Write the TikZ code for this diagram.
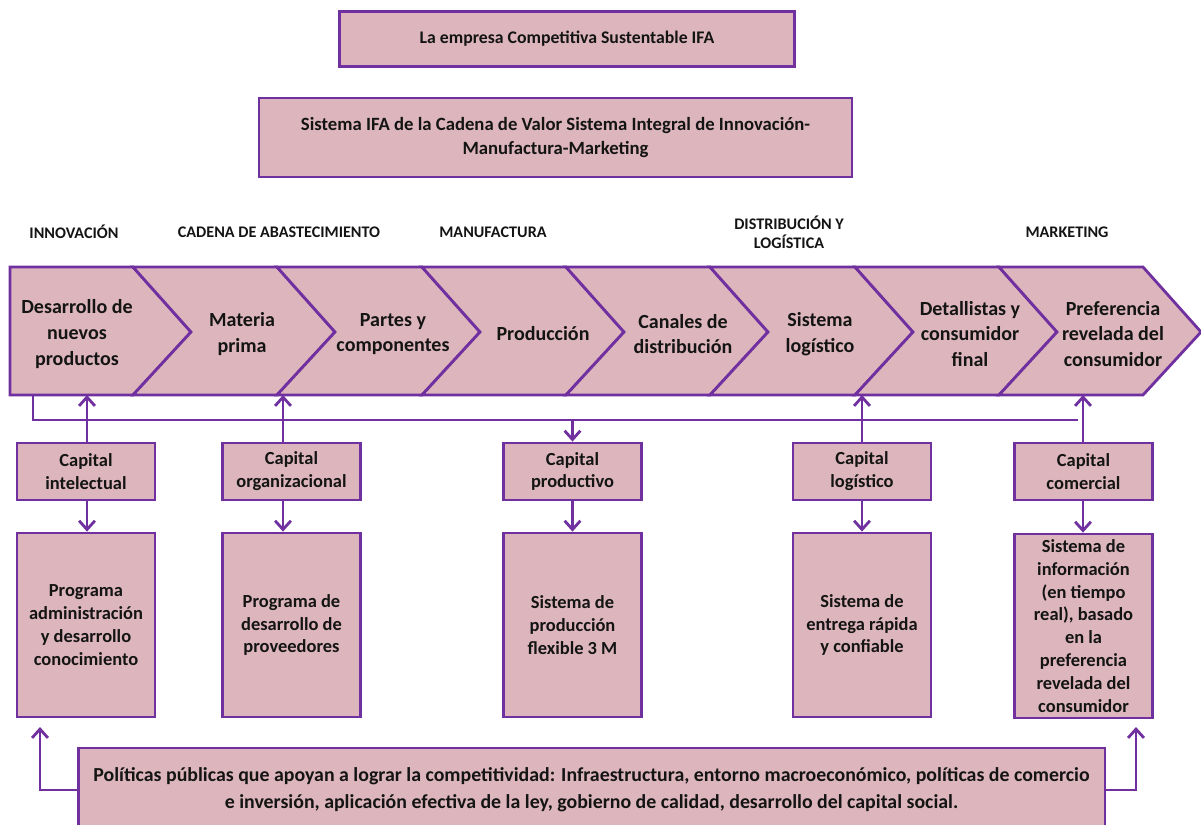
\documentclass[tikz,border=0pt]{standalone}
\usepackage{fontspec}
\setmainfont{Carlito}
\usetikzlibrary{arrows.meta}
\definecolor{frame}{RGB}{112,48,160}
\definecolor{paper}{RGB}{220,182,188}
\definecolor{ink}{RGB}{20,20,20}
\tikzset{
  box/.style={draw=frame, fill=paper, line width=1.6pt, inner sep=2pt,
              align=center, text=ink, font=\bfseries},
  chev/.style={draw=frame, fill=paper, line width=1.6pt, line join=miter},
  chevtext/.style={align=center, text=ink, font=\fontsize{11.4}{14.6}\selectfont\bfseries},
  sect/.style={align=center, text=ink, font=\fontsize{9.2}{11}\selectfont\bfseries},
  capbox/.style={box, minimum width=2.76cm, minimum height=1.14cm,
                 font=\fontsize{10.5}{13}\selectfont\bfseries},
  bigbox/.style={box, minimum width=2.76cm, minimum height=3.68cm,
                 font=\fontsize{10.5}{13}\selectfont\bfseries},
  link/.style={draw=frame, line width=1.6pt},
  arr/.style={link, -{Straight Barb[length=5pt, width=9pt]}}
}
\begin{document}
\begin{tikzpicture}[x=0.02cm, y=-0.02cm]
\useasboundingbox (0,0) rectangle (1201,825);

% title boxes
\node[box, minimum width=9.1cm, minimum height=1.1cm,
      font=\fontsize{10.1}{14}\selectfont\bfseries] (title) at (567,39)
  {La empresa Competitiva Sustentable IFA};
\node[box, minimum width=11.86cm, minimum height=1.58cm,
      font=\fontsize{10.65}{14.2}\selectfont\bfseries] (system) at (555.5,137.5)
  {Sistema IFA de la Cadena de Valor Sistema Integral de Innovación-\\Manufactura-Marketing};

% stage headings
\node[sect] (hInn) at (74,232) {INNOVACIÓN};
\node[sect] (hCad) at (279,232) {CADENA DE ABASTECIMIENTO};
\node[sect] (hMan) at (493,232) {MANUFACTURA};
\node[sect] (hDis) at (789,232) {DISTRIBUCIÓN Y\\LOGÍSTICA};
\node[sect] (hMkt) at (1067,232) {MARKETING};

% value chain chevrons
\path[chev] (10,267) -- (133,267) -- (191,332) -- (133,395) -- (10,395) -- cycle;
\foreach \a/\b in {133/277, 277/422, 422/566, 566/710, 710/855, 855/999, 999/1143}{
  \path[chev] (\a,267) -- (\b,267) -- (\b+58,332) -- (\b,395) -- (\a,395) -- (\a+58,332) -- cycle;
}
\node[chevtext] (ch1) at (77,334) {Desarrollo de\\nuevos\\productos};
\node[chevtext] (ch2) at (242,334) {Materia\\prima};
\node[chevtext] (ch3) at (393,334) {Partes y\\componentes};
\node[chevtext] (ch4) at (543,334) {Producción};
\node[chevtext] (ch5) at (683,334) {Canales de\\distribución};
\node[chevtext] (ch6) at (820,334) {Sistema\\logístico};
\node[chevtext] (ch7) at (970,334) {Detallistas y\\consumidor\\final};
\node[chevtext] (ch8) at (1113,334) {Preferencia\\revelada del\\consumidor};

% points on the lower edge of the chain
\coordinate (up1) at (87,395);
\coordinate (up2) at (283,395);
\coordinate (up4) at (862,395);
\coordinate (up5) at (1083,395);
\coordinate (fbA) at (33,395);
\coordinate (fbB) at (1078,420);

% capital boxes
\node[capbox] (cap1) at (86,471.5) {Capital\\intelectual};
\node[capbox] (cap2) at (291.5,471.5) {Capital\\organizacional};
\node[capbox] (cap3) at (572.5,471.5) {Capital\\productivo};
\node[capbox] (cap4) at (862,471.5) {Capital\\logístico};
\node[capbox] (cap5) at (1083.5,471.5) {Capital\\comercial};

% programme boxes
\node[bigbox] (prog1) at (86,625) {Programa\\administración\\y desarrollo\\conocimiento};
\node[bigbox] (prog2) at (291.5,625) {Programa de\\desarrollo de\\proveedores};
\node[bigbox] (prog3) at (572.5,625) {Sistema de\\producción\\flexible 3 M};
\node[bigbox] (prog4) at (862,625) {Sistema de\\entrega rápida\\y confiable};
\node[bigbox] (prog5) at (1083.5,626) {Sistema de\\información\\(en tiempo\\real), basado\\en la\\preferencia\\revelada del\\consumidor};

% public policy box (runs past the lower edge)
\node[box, minimum width=20.54cm, minimum height=1.68cm,
      font=\fontsize{11.3}{15.4}\selectfont\bfseries] (policy) at (591.5,790)
  {Políticas públicas que apoyan a lograr la competitividad: Infraestructura, entorno macroeconómico, políticas de comercio\\e inversión, aplicación efectiva de la ley, gobierno de calidad, desarrollo del capital social.};
\coordinate (polL) at (40,727);
\coordinate (polR) at (1136,727);

% feedback line under the chain
\draw[link] (fbA) |- (fbB);
\draw[arr] (cap3.north |- fbB) -- (cap3.north);

% capitals feeding the chain
\draw[arr] (up1 |- cap1.north) -- (up1);
\draw[arr] (up2 |- cap2.north) -- (up2);
\draw[arr] (up4 |- cap4.north) -- (up4);
\draw[arr] (up5 |- cap5.north) -- (up5);

% capitals to programmes
\draw[arr] (up1 |- cap1.south) -- (up1 |- prog1.north);
\draw[arr] (up2 |- cap2.south) -- (up2 |- prog2.north);
\draw[arr] (cap3.south) -- (prog3.north);
\draw[arr] (cap4.south) -- (prog4.north);
\draw[arr] (up5 |- cap5.south) -- (up5 |- prog5.north);

% policies supporting both ends
\draw[arr] (policy.west) -| (polL);
\draw[arr] (policy.east) -| (polR);
\end{tikzpicture}
\end{document}
